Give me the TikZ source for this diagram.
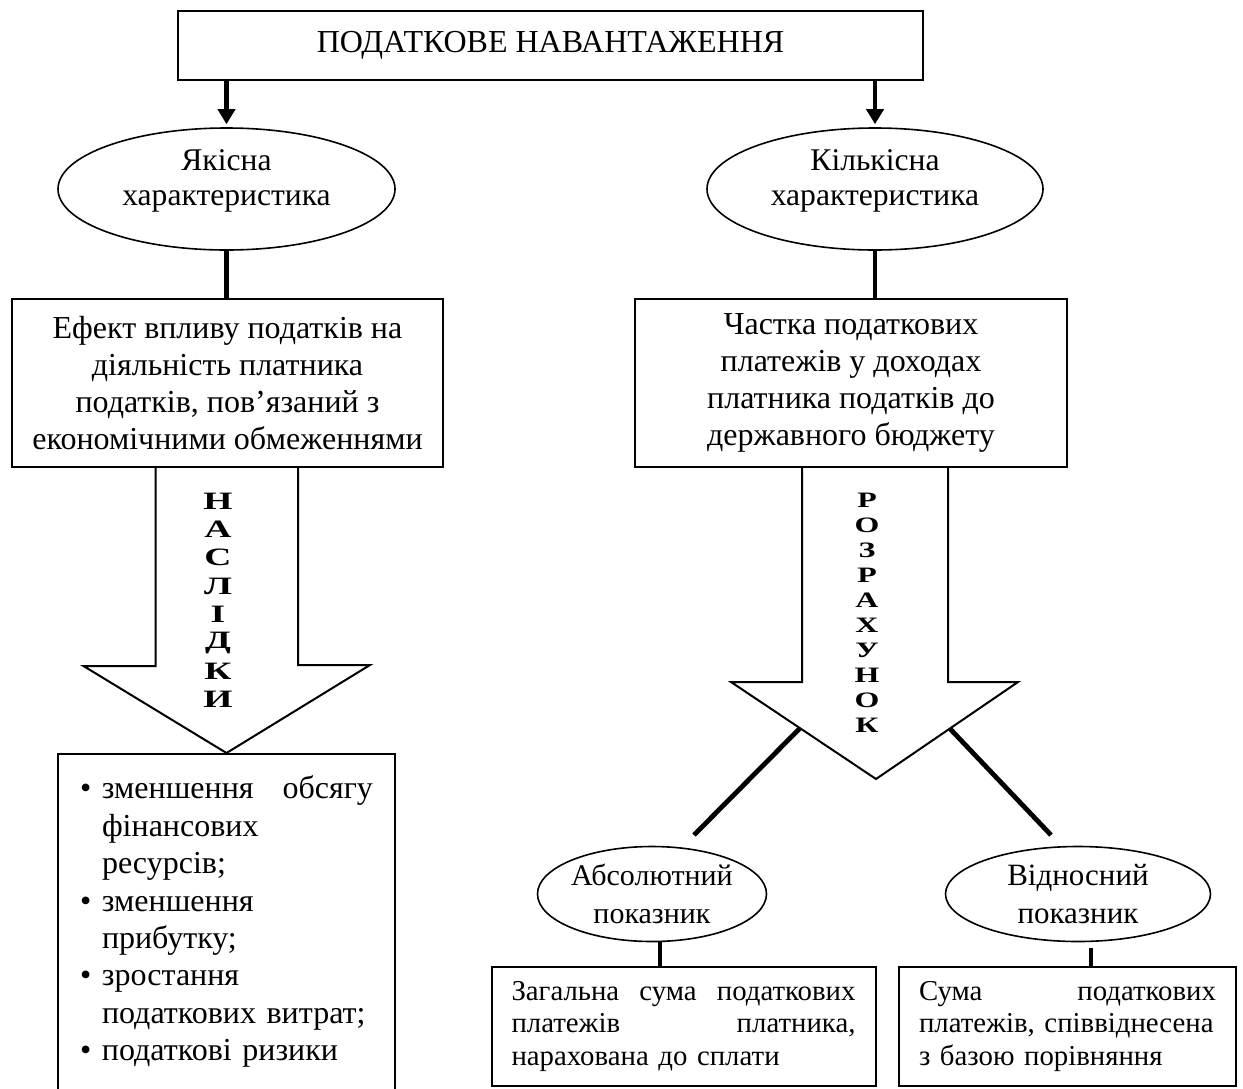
\documentclass[tikz,border=0pt]{standalone}
\usepackage{fontspec}
\setmainfont{Liberation Serif}
\usetikzlibrary{shapes.geometric,arrows.meta}

\newcommand\spread{\hskip 0pt plus 1filll}
\newcommand\itemline[2]{\makebox[11pt][l]{#1}#2}

\begin{document}
\begin{tikzpicture}[x=0.5pt, y=-0.5pt,
  box/.style={draw, line width=1pt, inner sep=0pt, align=center,
    font=\fontsize{16}{18.5}\selectfont},
  oval/.style={draw, ellipse, line width=0.8pt, inner sep=0pt, align=center,
    font=\fontsize{15.8}{17.5}\selectfont},
  feed/.style={line width=2.4pt, -{Triangle[length=7.5pt,width=8.5pt]}},
  link/.style={line width=2.4pt},
  bigarrow/.style={line width=1pt, line join=miter},
  letter/.style={inner sep=0pt, font=\bfseries\fontsize{12.5}{13}\selectfont}
]
\useasboundingbox (0,0) rectangle (1243,1088);

% top part
\node[box, minimum width=372.5pt, minimum height=34.5pt] (title) at (550.5,45.5) {ПОДАТКОВЕ НАВАНТАЖЕННЯ};
\node[oval, minimum width=168.5pt, minimum height=61pt, text depth=11pt] (qual) at (226.5,189) {Якісна\\характеристика};
\node[oval, minimum width=168pt, minimum height=61pt, text depth=11pt] (quant) at (875,189) {Кількісна\\характеристика};
\draw[feed] (title.south -| qual.north) -- ([yshift=1.5pt]qual.north);
\draw[feed] (title.south -| quant.north) -- ([yshift=1.5pt]quant.north);

\node[box, minimum width=215.5pt, minimum height=84pt] (effect) at (227.5,383)
  {Ефект впливу податків на\\діяльність платника\\податків, пов’язаний з\\економічними обмеженнями};
\node[box, minimum width=216pt, minimum height=84pt] (share) at (851,383)
  {Частка податкових\\платежів у доходах\\платника податків до\\державного бюджету};
\draw[link] (qual.south) -- (qual.south |- effect.north);
\draw[link] (quant.south) -- (quant.south |- share.north);

% left: consequences
\node[box, anchor=north, align=left, text width=146.5pt, inner xsep=11pt, inner ysep=11pt,
  font=\fontsize{16}{18.7}\selectfont] (effects) at (226.5,753)
  {\itemline{\textbullet}{зменшення\spread обсягу}\\
   \itemline{}{фінансових}\\
   \itemline{}{ресурсів;}\\
   \itemline{\textbullet}{зменшення}\\
   \itemline{}{прибутку;}\\
   \itemline{\textbullet}{зростання}\\
   \itemline{}{податкових витрат;}\\
   \itemline{\textbullet}{податкові ризики}\par\vspace*{10pt}};
\draw[bigarrow] (effect.south) ++(-72,0) -- ++(0,198) -- ++(-72,0) -- (effects.north)
  -- ++(143.5,-88) -- ++(-72,0) -- ++(0,-198);
\foreach \ch [count=\i] in {Н,А,С,Л,І,Д,К,И}
  \node[letter] (nasl\i) at (218,{501+28.4*(\i-1)}) {\scalebox{1.5}[1]{\ch}};

% right: calculation
\draw[bigarrow] (quant.south |- share.south) ++(-73,0) -- ++(0,214) -- ++(-71,0)
  -- coordinate[pos=0.476] (hl) ++(145,97) -- coordinate[pos=0.52] (hr) ++(142,-97)
  -- ++(-70,0) -- ++(0,-214);
\foreach \ch [count=\i] in {Р,О,З,Р,А,Х,У,Н,О,К}
  \node[letter, font=\bfseries\fontsize{11}{12}\selectfont] (rozr\i) at (867,{500+25*(\i-1)}) {\scalebox{1.45}[1]{\ch}};

\node[oval, minimum width=114.5pt, minimum height=47.5pt, font=\fontsize{15}{19}\selectfont] (abs) at (652,894) {Абсолютний\\показник};
\node[oval, minimum width=132.5pt, minimum height=47.5pt, font=\fontsize{15.5}{19}\selectfont] (rel) at (1078,894) {Відносний\\показник};
\coordinate (absend) at (694,835);
\coordinate (relend) at (1051,835);
\draw[link] (hl) -- (absend);
\draw[link] (hr) -- (relend);

\node[box, align=left, text width=172pt, inner xsep=10pt, minimum height=59.5pt,
  font=\fontsize{14.4}{16.25}\selectfont] (total) at (683.5,1026.5)
  {Загальна\spread сума\spread податкових\\платежів\spread платника,\\нарахована до сплати};
\node[box, align=left, text width=148.5pt, inner xsep=10pt, minimum height=59.5pt,
  font=\fontsize{14.4}{16.25}\selectfont] (ratio) at (1067.5,1026.5)
  {Сума\spread податкових\\\mbox{платежів, співвіднесена}\\з базою порівняння};
\draw[link] ([xshift=4pt]abs.south) -- ([xshift=4pt]abs.south |- total.north);
\draw[link] ([xshift=6.5pt,yshift=-3pt]rel.south) -- ([xshift=6.5pt]rel.south |- ratio.north);
\end{tikzpicture}
\end{document}
